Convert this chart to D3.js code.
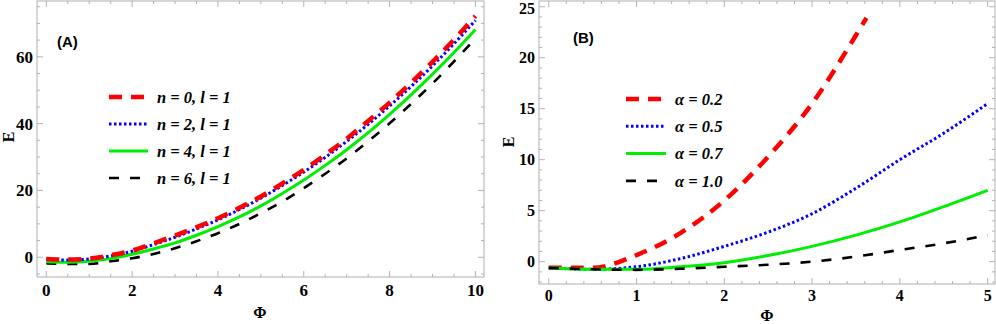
<!DOCTYPE html>
<html>
<head>
<meta charset="utf-8">
<script src="https://cdn.jsdelivr.net/npm/d3@7"></script>
<style>
  body { margin: 0; background: #fff; }
  svg { display: block; }
  svg text { font-family: "Liberation Serif", "Times New Roman", Times, "DejaVu Serif", serif; }
  svg text.sans { font-family: "Liberation Sans", Arial, sans-serif; }
</style>
</head>
<body>
<div id="chart"></div>
<script>
// Panel (A): E vs Phi for different n (l = 1)
const phiA = [0, 0.5, 1, 1.5, 2, 2.5, 3, 3.5, 4, 4.5, 5, 5.5, 6, 6.5, 7, 7.5, 8, 8.5, 9, 9.5, 10];
const eN0 = [-0.5, -0.7, -0.4, 0.6, 2.0, 4.2, 6.5, 9.0, 11.7, 14.8, 18.2, 22.1, 26.2, 30.7, 35.5, 40.8, 46.3, 52.2, 58.5, 65.1, 72.2];
const eN2 = [-0.6, -0.8, -0.5, 0.4, 1.8, 3.8, 6.0, 8.5, 11.2, 14.3, 17.7, 21.5, 25.5, 29.9, 34.7, 39.8, 45.3, 51.1, 57.3, 63.9, 70.9];
const eN4 = [-1.3, -1.5, -1.2, -0.4, 0.9, 2.5, 4.3, 6.6, 9.2, 12.1, 15.4, 19.1, 23.1, 27.5, 32.2, 37.3, 42.8, 48.6, 54.8, 61.3, 68.2];
const eN6 = [-1.8, -2.0, -2.0, -1.2, -0.3, 1.0, 2.7, 4.8, 7.2, 10.0, 13.2, 16.7, 20.7, 25.0, 29.6, 34.7, 40.1, 45.9, 52.0, 58.6, 65.5];
const labelsA = ["n = 0, l = 1", "n = 2, l = 1", "n = 4, l = 1", "n = 6, l = 1"];

// Panel (B): E vs Phi for different alpha
const phiB = [0, 0.5, 1, 1.5, 2, 2.5, 3, 3.5, 4, 4.5, 5];
const phiB02 = [0, 0.5, 1, 1.5, 2, 2.5, 3, 3.5, 3.62];
const eA02 = [-0.6, -0.6, 0.65, 2.8, 6.0, 10.3, 15.5, 22.2, 23.9];
const eA05 = [-0.6, -0.75, -0.5, 0.3, 1.5, 2.9, 4.7, 7.2, 10.0, 12.6, 15.5];
const eA07 = [-0.6, -0.75, -0.75, -0.5, -0.1, 0.6, 1.5, 2.6, 3.9, 5.4, 7.0];
const eA10 = [-0.6, -0.75, -0.8, -0.7, -0.5, -0.3, 0.0, 0.5, 1.15, 1.8, 2.6];
const labelsB = ["α = 0.2", "α = 0.5", "α = 0.7", "α = 1.0"];

const styles = [
  { color: "#ff0000", width: 4.5, dash: "13,9" },
  { color: "#0000ff", width: 3, dash: "2.5,2.5" },
  { color: "#00ee00", width: 3, dash: null },
  { color: "#000000", width: 2.6, dash: "10,11" }
];

const W = 996, H = 324;
const svg = d3.select("#chart").append("svg")
  .attr("width", W).attr("height", H);

function panel(cfg) {
  const x = d3.scaleLinear().domain(cfg.xDomain).range([cfg.left, cfg.right]);
  const y = d3.scaleLinear().domain(cfg.yDomain).range([cfg.bottom, cfg.top]);
  const g = svg.append("g");

  g.append("clipPath").attr("id", "clip-" + cfg.id)
    .append("rect")
    .attr("x", cfg.left).attr("y", cfg.top)
    .attr("width", cfg.right - cfg.left).attr("height", cfg.bottom - cfg.top);

  // minor + major ticks on all four sides, pointing inward
  const xMinor = d3.range(cfg.xTicks[0], cfg.xTicks[cfg.xTicks.length - 1] + 1e-9, cfg.xMinor);
  const yMinor = d3.range(cfg.yMinorStart, cfg.yDomain[1], cfg.yMinor);
  const tg = g.append("g").attr("stroke", "#a0a0a0").attr("stroke-width", 0.8);
  xMinor.forEach(v => {
    const major = cfg.xTicks.some(t => Math.abs(t - v) < 1e-6);
    const len = major ? 6 : 3;
    tg.append("line").attr("x1", x(v)).attr("x2", x(v)).attr("y1", cfg.bottom).attr("y2", cfg.bottom - len);
    tg.append("line").attr("x1", x(v)).attr("x2", x(v)).attr("y1", cfg.top).attr("y2", cfg.top + len);
  });
  yMinor.forEach(v => {
    if (y(v) > cfg.bottom || y(v) < cfg.top) return;
    const major = cfg.yTicks.some(t => Math.abs(t - v) < 1e-6);
    const len = major ? 6 : 3;
    tg.append("line").attr("y1", y(v)).attr("y2", y(v)).attr("x1", cfg.left).attr("x2", cfg.left + len);
    tg.append("line").attr("y1", y(v)).attr("y2", y(v)).attr("x1", cfg.right).attr("x2", cfg.right - len);
  });

  g.append("rect")
    .attr("x", cfg.left).attr("y", cfg.top)
    .attr("width", cfg.right - cfg.left).attr("height", cfg.bottom - cfg.top)
    .attr("fill", "none").attr("stroke", "#b0b0b0").attr("stroke-width", 1);

  // tick labels (top label nudged so it stays inside the picture)
  g.selectAll(".xl").data(cfg.xTicks).enter().append("text")
    .attr("x", d => x(d)).attr("y", cfg.xLabelY)
    .attr("text-anchor", "middle")
    .attr("font-weight", "bold").attr("font-size", cfg.fs)
    .text(d => d);
  g.selectAll(".yl").data(cfg.yTicks).enter().append("text")
    .attr("x", cfg.left - 4).attr("y", d => Math.max(y(d), 8.5)).attr("dy", "0.35em")
    .attr("text-anchor", "end")
    .attr("font-weight", "bold").attr("font-size", cfg.fs)
    .text(d => d);

  // axis titles
  g.append("text").attr("x", cfg.xTitle[0]).attr("y", cfg.xTitle[1])
    .attr("text-anchor", "middle").attr("font-weight", "bold").attr("font-size", 16)
    .text("Φ");
  g.append("text")
    .attr("transform", `translate(${cfg.yTitle[0]},${cfg.yTitle[1]}) rotate(-90)`)
    .attr("text-anchor", "middle").attr("dy", "0.35em")
    .attr("font-weight", "bold").attr("font-size", 16)
    .text("E");

  // curves
  const line = d3.line().x(d => x(d[0])).y(d => y(d[1])).curve(d3.curveMonotoneX);
  const cg = g.append("g").attr("clip-path", `url(#clip-${cfg.id})`);
  cfg.series.forEach(s => {
    const st = styles[s.style];
    cg.append("path")
      .datum(s.xs.map((v, j) => [v, s.ys[j]]))
      .attr("d", line)
      .attr("fill", "none")
      .attr("stroke", st.color)
      .attr("stroke-width", st.width)
      .attr("stroke-dasharray", st.dash);
  });

  // panel letter
  g.append("text").attr("class", "sans")
    .attr("x", cfg.letter[0]).attr("y", cfg.letter[1])
    .attr("font-weight", "bold").attr("font-size", 15)
    .text(cfg.letterText);

  // legend
  const lg = g.append("g");
  cfg.labels.forEach((lab, i) => {
    const st = styles[i];
    const yy = cfg.legend.y0 + i * cfg.legend.dy;
    lg.append("line")
      .attr("x1", cfg.legend.x1).attr("x2", cfg.legend.x2)
      .attr("y1", yy).attr("y2", yy)
      .attr("stroke", st.color).attr("stroke-width", st.width)
      .attr("stroke-dasharray", st.dash);
    lg.append("text")
      .attr("x", cfg.legend.tx).attr("y", yy).attr("dy", "0.35em")
      .attr("font-weight", "bold").attr("font-style", "italic").attr("font-size", 16.5)
      .text(lab);
  });
}

panel({
  id: "a",
  left: 37, right: 484, top: 1, bottom: 277,
  xDomain: [-0.217, 10.2], yDomain: [-5.9, 76.7],
  xTicks: [0, 2, 4, 6, 8, 10], xMinor: 0.5,
  yTicks: [0, 20, 40, 60], yMinor: 5, yMinorStart: -5,
  fs: 17, xLabelY: 296,
  xTitle: [260, 318], yTitle: [8, 137],
  letter: [57, 47], letterText: "(A)",
  labels: labelsA,
  legend: { x1: 109, x2: 148, tx: 157, y0: 97, dy: 27 },
  series: [
    { xs: phiA, ys: eN6, style: 3 },
    { xs: phiA, ys: eN4, style: 2 },
    { xs: phiA, ys: eN2, style: 1 },
    { xs: phiA, ys: eN0, style: 0 }
  ]
});

panel({
  id: "b",
  left: 539, right: 995, top: 1, bottom: 284,
  xDomain: [-0.111, 5.084], yDomain: [-2.19, 25.56],
  xTicks: [0, 1, 2, 3, 4, 5], xMinor: 0.2,
  yTicks: [0, 5, 10, 15, 20, 25], yMinor: 1, yMinorStart: -2,
  fs: 16, xLabelY: 301,
  xTitle: [767, 321], yTitle: [508, 142],
  letter: [573, 43], letterText: "(B)",
  labels: labelsB,
  legend: { x1: 626, x2: 666, tx: 675, y0: 99, dy: 27.3 },
  series: [
    { xs: phiB02, ys: eA02, style: 0 },
    { xs: phiB, ys: eA05, style: 1 },
    { xs: phiB, ys: eA07, style: 2 },
    { xs: phiB, ys: eA10, style: 3 }
  ]
});
</script>
</body>
</html>
